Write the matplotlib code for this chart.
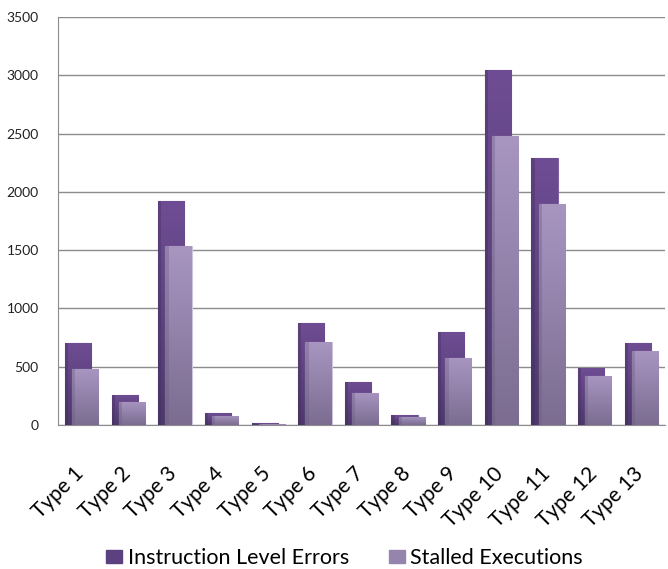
import numpy as np
import matplotlib.pyplot as plt
from matplotlib.colors import LinearSegmentedColormap
from matplotlib.transforms import ScaledTranslation

categories = ["Type 1", "Type 2", "Type 3", "Type 4", "Type 5", "Type 6", "Type 7",
              "Type 8", "Type 9", "Type 10", "Type 11", "Type 12", "Type 13"]
instruction_errors = [705, 260, 1920, 100, 15, 875, 370, 85, 800, 3045, 2290, 490, 705]
stalled_executions = [480, 200, 1535, 80, 8, 710, 275, 70, 575, 2480, 1900, 425, 635]

plt.rcParams['font.family'] = ['Lato', 'DejaVu Sans']

fig = plt.figure(figsize=(6.68, 5.69), dpi=100)
ax = fig.add_axes([0.087, 0.253, 0.908, 0.717])

x = np.arange(len(categories))
width = 0.56

dark_cmap = LinearSegmentedColormap.from_list("dark", ["#4c386a", "#6f4d94"])
light_cmap = LinearSegmentedColormap.from_list("light", ["#7b6c90", "#a896c1"])


def gradient_bars(bars, cmap, edge, side):
    for b in bars:
        x0, y0 = b.get_x(), b.get_y()
        w, h = b.get_width(), b.get_height()
        if h <= 0:
            continue
        grad = np.linspace(0, 1, 256).reshape(-1, 1)
        im = ax.imshow(grad, cmap=cmap, aspect="auto", origin="lower",
                       extent=[x0, x0 + w, y0, y0 + h], zorder=b.get_zorder())
        im.set_clip_path(b)
        # darker left strip
        ax.add_patch(plt.Rectangle((x0, y0), w * 0.12, h, color=side,
                                   alpha=0.35, lw=0, zorder=b.get_zorder() + 0.1))
        b.set_facecolor("none")
        b.set_edgecolor(edge)
        b.set_linewidth(0.8)


bars1 = ax.bar(x - 0.075, instruction_errors, width, color="#6f4d94", zorder=3,
               label="Instruction Level Errors")
gradient_bars(bars1, dark_cmap, "#7e63a0", "#3e2c58")
bars2 = ax.bar(x + 0.08, stalled_executions, width, color="#a594bf", zorder=4,
               label="Stalled Executions")
gradient_bars(bars2, light_cmap, "#cdc3dc", "#6a5a82")

ax.set_xlim(-0.5, len(categories) - 0.5)
ax.set_ylim(0, 3500)
ax.set_yticks(np.arange(0, 3501, 500))
ax.yaxis.grid(True, color="#8c8c8c", lw=1)
ax.set_axisbelow(True)
ax.tick_params(axis="y", length=0, labelsize=10, pad=14, labelcolor="#222222")
ax.tick_params(axis="x", length=0, pad=6)
ax.set_xticks(x)
ax.set_xticklabels(categories, rotation=45, ha="right", va="top",
                   rotation_mode="anchor", fontsize=15)
shift = ScaledTranslation(-8 / 100, -30 / 100, fig.dpi_scale_trans)
for lbl in ax.get_xticklabels():
    lbl.set_transform(lbl.get_transform() + shift)
for s in ["top", "right"]:
    ax.spines[s].set_visible(False)
ax.spines["left"].set_color("#8c8c8c")
ax.spines["bottom"].set_color("#8c8c8c")

handles = [plt.Rectangle((0, 0), 1, 1, color="#5b4180"),
           plt.Rectangle((0, 0), 1, 1, color="#9585ad")]
fig.legend(handles, ["Instruction Level Errors", "Stalled Executions"],
           loc="center", bbox_to_anchor=(0.516, 0.019), ncol=2, frameon=False,
           fontsize=15.5, handlelength=0.75, handleheight=0.56, columnspacing=1.85,
           handletextpad=0.25, borderpad=0)

fig.savefig("out.png", dpi=100)
